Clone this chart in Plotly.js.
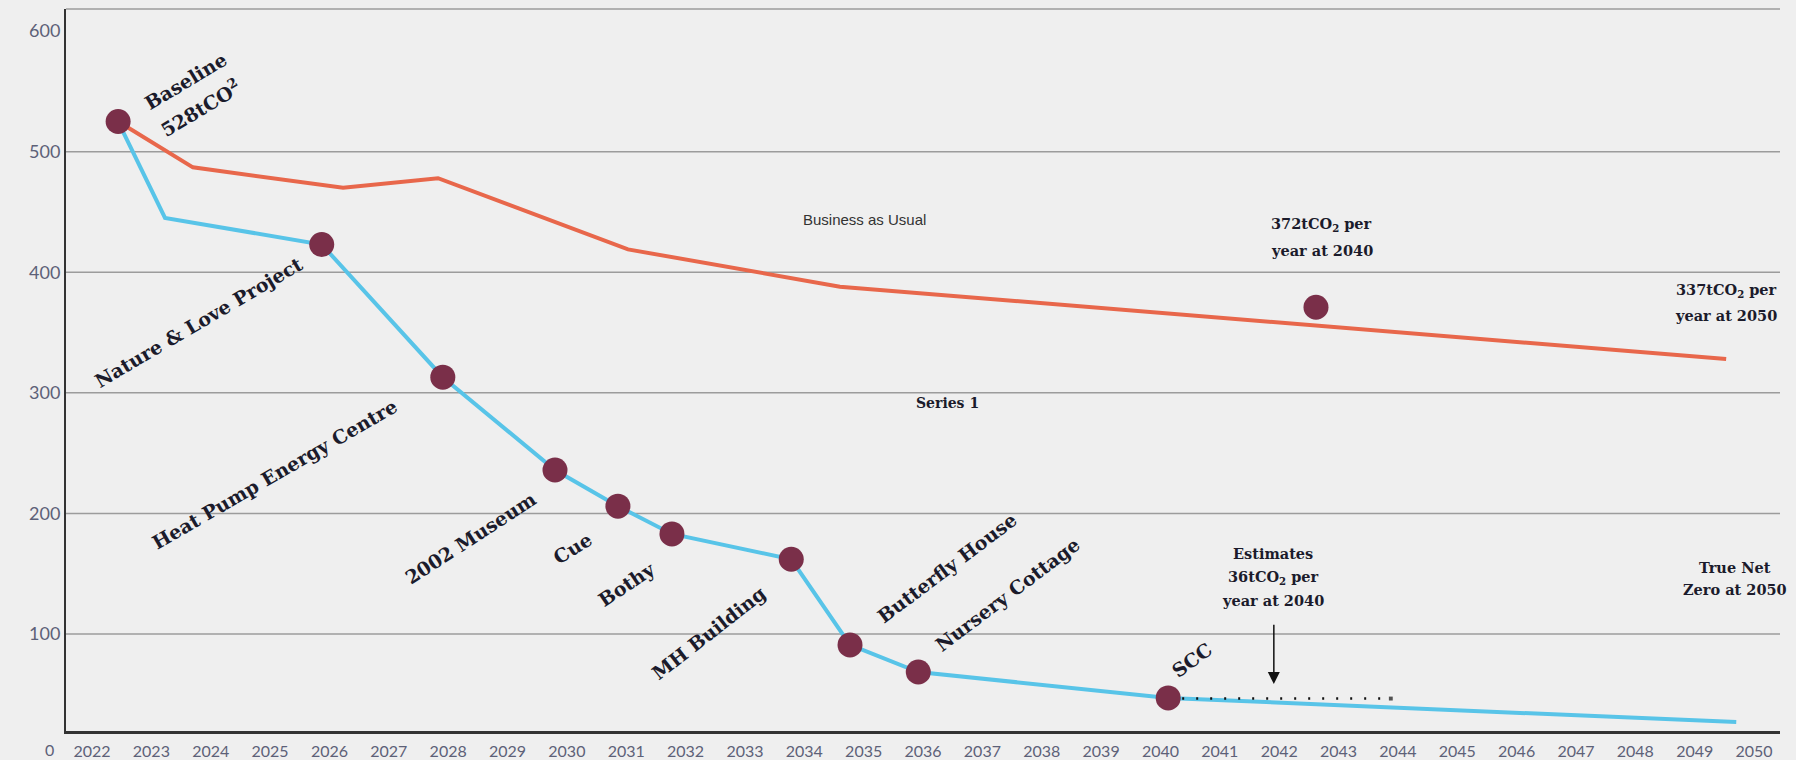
<!DOCTYPE html>
<html>
<head>
<meta charset="utf-8">
<script src="https://cdn.plot.ly/plotly-3.0.1.min.js"></script>
<style>
  html, body { margin: 0; padding: 0; background: #efefef; }
  #chart { width: 1796px; height: 760px; }
</style>
</head>
<body>
<div id="chart"></div>
<script>
// ---------- data ----------
const years = [2022, 2023, 2024, 2025, 2026, 2027, 2028, 2029, 2030, 2031, 2032, 2033, 2034, 2035,
               2036, 2037, 2038, 2039, 2040, 2041, 2042, 2043, 2044, 2045, 2046, 2047, 2048, 2049, 2050];
const yTickValues = [100, 200, 300, 400, 500, 600];
const gridValues = [100, 200, 300, 400, 500];
const zeroLabel = 0;

// Business as Usual (orange)
const bauYears  = [2022.44, 2023.70, 2026.23, 2027.83, 2031.03, 2034.60, 2049.53];
const bauValues = [525, 487, 470, 478, 419, 388, 328];

// Reduction pathway (blue)
const pathYears  = [2022.44, 2023.23, 2025.87, 2027.91, 2029.80, 2030.86, 2031.77, 2033.78, 2034.77, 2035.92, 2040.13, 2049.70];
const pathValues = [525, 445, 423, 313, 236, 206, 183, 162, 91, 68.5, 47, 27];

// milestone markers (indices into the pathway)
const milestoneIndex = [0, 2, 3, 4, 5, 6, 7, 8, 9, 10];
const milestoneNames = ['Baseline', 'Nature & Love Project', 'Heat Pump Energy Centre', '2002 Museum', 'Cue',
                        'Bothy', 'MH Building', 'Butterfly House', 'Nursery Cottage', 'SCC'];

// BAU 2040 marker
const bau2040Years  = [2042.62];
const bau2040Values = [371];

// dotted estimate line
const estimateYears  = [2040.13, 2043.88];
const estimateValues = [46.5, 46.5];

// arrow (tail value -> tip value) at year
const arrowYear = 2041.91;
const arrowTail = 116;
const arrowTip  = 58.5;

// ---------- traces ----------
const mYears  = milestoneIndex.map(i => pathYears[i]);
const mValues = milestoneIndex.map(i => pathValues[i]);

const traces = [
  { x: bauYears, y: bauValues, type: 'scatter', mode: 'lines', name: 'Business as Usual',
    line: { color: '#e8674b', width: 4 }, hoverinfo: 'x+y' },
  { x: pathYears, y: pathValues, type: 'scatter', mode: 'lines', name: 'Series 1',
    line: { color: '#58c4e8', width: 4 }, hoverinfo: 'x+y' },
  { x: estimateYears, y: estimateValues, type: 'scatter', mode: 'lines+markers',
    line: { color: '#111111', width: 2.5, dash: '2px,12px' },
    marker: { symbol: 'square', size: [0, 5], color: '#111111' }, hoverinfo: 'skip' },
  { x: mYears, y: mValues, type: 'scatter', mode: 'markers', text: milestoneNames, hoverinfo: 'text+y',
    marker: { color: '#7a2f49', size: 25 } },
  { x: bau2040Years, y: bau2040Values, type: 'scatter', mode: 'markers', hoverinfo: 'y',
    marker: { color: '#7a2f49', size: 25 } }
];

// ---------- annotations ----------
const serif = { family: 'DejaVu Serif', size: 19, color: '#1b1b2b', weight: 'bold' };
const serifSmall = { family: 'DejaVu Serif', size: 14.5, color: '#1b1b2b', weight: 'bold' };

const rotatedLabels = [
  { text: 'Baseline', x: 2023.58, y: 558.5, a: -31 },
  { text: '528tCO<sup>2</sup>', x: 2023.82, y: 536, a: -31 },
  { text: milestoneNames[1], x: 2023.80, y: 358.6, a: -30.5 },
  { text: milestoneNames[2], x: 2025.08, y: 232.7, a: -30 },
  { text: milestoneNames[3], x: 2028.38, y: 179.6, a: -33 },
  { text: milestoneNames[4], x: 2030.10, y: 171.3, a: -32 },
  { text: milestoneNames[5], x: 2031.01, y: 141.5, a: -34 },
  { text: milestoneNames[6], x: 2032.39, y: 100.8, a: -38 },
  { text: milestoneNames[7], x: 2036.40, y: 154.7, a: -37 },
  { text: milestoneNames[8], x: 2037.43, y: 133.2, a: -37 },
  { text: milestoneNames[9], x: 2040.53, y: 78.4, a: -36 }
];

const plainLabels = [
  { text: '372tCO<sub>2</sub> per', x: 2042.72, y: 439.2 },
  { text: 'year at 2040', x: 2042.72, y: 418.4 },
  { text: '337tCO<sub>2</sub> per', x: 2049.53, y: 385.2 },
  { text: 'year at 2050', x: 2049.53, y: 364.5 },
  { text: 'Estimates', x: 2041.90, y: 167.1 },
  { text: '36tCO<sub>2</sub> per', x: 2041.90, y: 147.2 },
  { text: 'year at 2040', x: 2041.90, y: 128.2 },
  { text: 'True Net', x: 2049.68, y: 155.5 },
  { text: 'Zero at 2050', x: 2049.68, y: 137.3 }
];

const xRange = [2021.562, 2050.437];
const yRange = [19.6, 618.3];

const annotations = [];
rotatedLabels.forEach(l => annotations.push({
  text: l.text, x: l.x, y: l.y, xref: 'x', yref: 'y', showarrow: false, textangle: l.a,
  xanchor: 'center', yanchor: 'middle', font: serif
}));
plainLabels.forEach(l => annotations.push({
  text: l.text, x: l.x, y: l.y, xref: 'x', yref: 'y', showarrow: false,
  xanchor: 'center', yanchor: 'middle', font: serifSmall
}));
annotations.push({
  text: 'Business as Usual', x: 2035.01, y: 444.1, xref: 'x', yref: 'y', showarrow: false,
  font: { family: 'Liberation Sans', size: 15, color: '#333333' }
});
annotations.push({
  text: 'Series 1', x: 2036.42, y: 291.5, xref: 'x', yref: 'y', showarrow: false,
  font: { family: 'DejaVu Serif', size: 14, color: '#1b1b2b', weight: 'bold' }
});
annotations.push({
  text: ' ', x: arrowYear, y: arrowTip, ax: arrowYear, ay: arrowTail, axref: 'x', ayref: 'y',
  xref: 'x', yref: 'y', showarrow: true, arrowhead: 2, arrowsize: 1.6, arrowwidth: 1.5,
  arrowcolor: '#111111', standoff: 0
});
// the "0" tick sits below the drawn x axis line, so it is placed in paper units
annotations.push({
  text: String(zeroLabel), xref: 'paper', x: -0.0099, yref: 'paper',
  y: (zeroLabel - yRange[0]) / (yRange[1] - yRange[0]), yshift: 5, showarrow: false,
  xanchor: 'center', yanchor: 'middle', font: { family: 'Lato', size: 16, color: '#5d6178' }
});

// ---------- shapes (gridlines + top border) ----------
const shapes = gridValues.map(v => ({
  type: 'line', xref: 'paper', x0: 0, x1: 1, yref: 'y', y0: v, y1: v,
  line: { color: '#9c9c9c', width: 1.5 }, layer: 'below'
}));
shapes.push({ type: 'line', xref: 'paper', x0: 0, x1: 1, yref: 'paper', y0: 1, y1: 1,
  line: { color: '#9c9c9c', width: 1.5 }, layer: 'below' });

const layout = {
  width: 1796, height: 760,
  margin: { l: 66, r: 16, t: 9, b: 29, pad: 0 },
  paper_bgcolor: '#efefef', plot_bgcolor: '#efefef',
  showlegend: false,
  xaxis: {
    range: xRange, tickvals: years, ticktext: years.map(String),
    showgrid: false, zeroline: false, showline: true, linecolor: '#333333', linewidth: 2.5,
    ticks: '', ticklabelstandoff: 4, tickfont: { family: 'Lato', size: 16, color: '#5d6178' }, fixedrange: true
  },
  yaxis: {
    range: yRange, tickvals: yTickValues, ticktext: yTickValues.map(String),
    showgrid: false, zeroline: false, showline: true, linecolor: '#333333', linewidth: 2,
    ticks: '', tickfont: { family: 'Lato', size: 18, color: '#5d6178' }, fixedrange: true
  },
  shapes: shapes,
  annotations: annotations
};

Plotly.newPlot('chart', traces, layout, { displayModeBar: false, staticPlot: true });
</script>
</body>
</html>
